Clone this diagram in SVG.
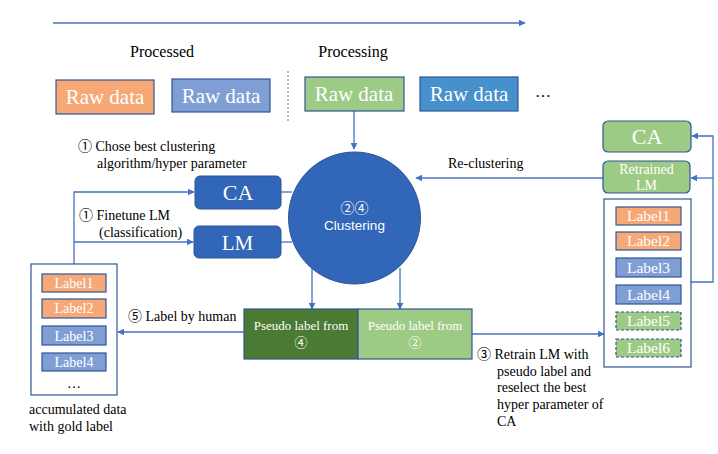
<svg xmlns="http://www.w3.org/2000/svg" width="718" height="454" viewBox="0 0 718 454" font-family="'Liberation Serif', 'Times New Roman', 'DejaVu Serif', serif">
<style>
text{font-family:'Liberation Serif','Times New Roman','DejaVu Serif',serif;}
.cj{font-family:'Liberation Serif','Noto Sans CJK JP',serif;}
.t{font-size:14px;fill:#000;}
.w{fill:#fff;text-anchor:middle;}
.raw{font-size:21px;}
.box{stroke:#2F5597;stroke-width:1.2;}
.ln{stroke:#4472C4;stroke-width:1.3;fill:none;}
.or{fill:#F7A877;}
.bl{fill:#7F9FD4;}
.gr{fill:#9DCB86;}
.lb{font-size:14px;}
.lb2{font-size:15.5px;}
.sans{font-family:'Liberation Sans','Noto Sans CJK JP',sans-serif;}
</style>
<defs>
<marker id="ah" viewBox="0 0 10 10" refX="9" refY="5" markerWidth="7" markerHeight="7" markerUnits="userSpaceOnUse" orient="auto">
<path d="M0,0 L10,5 L0,10 z" fill="#4472C4"/>
</marker>
</defs>
<rect width="718" height="454" fill="#fff"/>

<g id="connectors">
<line class="ln" x1="53" y1="23" x2="525" y2="23" marker-end="url(#ah)"/>
<line x1="288" y1="71" x2="288" y2="122" stroke="#4472C4" stroke-width="1" stroke-dasharray="2,2"/>
<line class="ln" x1="354" y1="111" x2="354" y2="149" marker-end="url(#ah)"/>
<line class="ln" x1="281" y1="192" x2="292" y2="192"/>
<line class="ln" x1="281" y1="242" x2="292" y2="242"/>
<polyline class="ln" points="74,264 74,192 194,192" marker-end="url(#ah)"/>
<line class="ln" x1="74" y1="242" x2="193" y2="242" marker-end="url(#ah)"/>
<line class="ln" x1="312" y1="268" x2="312" y2="309" marker-end="url(#ah)"/>
<line class="ln" x1="400" y1="268" x2="400" y2="309" marker-end="url(#ah)"/>
<line class="ln" x1="244" y1="332" x2="118" y2="332" marker-end="url(#ah)"/>
<line class="ln" x1="472" y1="334" x2="604" y2="334" marker-end="url(#ah)"/>
<line class="ln" x1="603" y1="178" x2="416" y2="178" marker-end="url(#ah)"/>
<polyline class="ln" points="691,282 713,282 713,136 692,136" marker-end="url(#ah)"/>
<line class="ln" x1="713" y1="178" x2="691" y2="178" marker-end="url(#ah)"/>
</g>

<text class="t" x="162" y="57" text-anchor="middle" style="font-size:16px">Processed</text>
<text class="t" x="353" y="57" text-anchor="middle" style="font-size:16px">Processing</text>

<g id="raw1"><rect class="box or" x="56" y="80" width="98" height="34"/><text class="w raw" x="105" y="104">Raw data</text></g>
<g id="raw2"><rect class="box bl" x="172" y="79" width="98" height="33"/><text class="w raw" x="221" y="103">Raw data</text></g>
<g id="raw3"><rect class="box gr" x="305" y="77" width="99" height="34"/><text class="w raw" x="354" y="101">Raw data</text></g>
<g id="raw4"><rect class="box" fill="#4690CC" x="420" y="77" width="98" height="34"/><text class="w raw" x="469" y="101">Raw data</text></g>
<text class="t" x="543" y="97" text-anchor="middle" style="font-size:16px">…</text>

<g id="clustering">
<circle cx="354.5" cy="218" r="66" fill="#3166B9" stroke="#2F5597" stroke-width="1"/>
<text class="sans" x="354.5" y="213" fill="#fff" text-anchor="middle" style="font-size:14px">②④</text>
<text class="sans" x="354.5" y="230" fill="#fff" text-anchor="middle" style="font-size:13.5px">Clustering</text>
</g>

<g id="ca"><rect x="195" y="176" width="86" height="33" rx="5" fill="#3166B9" stroke="#2F5597"/><text class="w" x="238" y="200" style="font-size:22px">CA</text></g>
<g id="lm"><rect x="194" y="226" width="87" height="32" rx="5" fill="#3166B9" stroke="#2F5597"/><text class="w" x="237.5" y="250" style="font-size:21px">LM</text></g>

<text class="t cj" x="78" y="151">① Chose best clustering</text>
<text class="t" x="97" y="168">algorithm/hyper parameter</text>
<text class="t cj" x="79" y="220">① Finetune LM</text>
<text class="t" x="99" y="237">(classification)</text>

<g id="gold">
<rect x="31" y="264" width="86" height="131" fill="#fff" stroke="#2F5597" stroke-width="1.2"/>
<rect class="box or" x="42" y="274" width="64" height="18"/><text class="w lb" x="74" y="288">Label1</text>
<rect class="box or" x="42" y="299" width="64" height="19"/><text class="w lb" x="74" y="313">Label2</text>
<rect class="box bl" x="42" y="326" width="64" height="19"/><text class="w lb" x="74" y="341">Label3</text>
<rect class="box bl" x="42" y="353" width="64" height="18"/><text class="w lb" x="74" y="367">Label4</text>
<text class="t" x="74" y="388" text-anchor="middle">…</text>
</g>
<text class="t" x="29" y="414">accumulated data</text>
<text class="t" x="29" y="431">with gold label</text>

<text class="t cj" x="128" y="321">⑤ Label by human</text>

<g id="pseudo4"><rect class="box" fill="#4A7A33" x="244" y="309" width="114" height="50"/>
<text class="w" x="301" y="330" style="font-size:13px">Pseudo label from</text><text class="w cj" x="301" y="347" style="font-size:13px">④</text></g>
<g id="pseudo2"><rect class="box gr" x="358" y="309" width="114" height="50"/>
<text class="w" x="415" y="330" style="font-size:13px">Pseudo label from</text><text class="w cj" x="415" y="347" style="font-size:13px">②</text></g>

<text class="t cj" x="477" y="359">③ Retrain LM with</text>
<text class="t" x="497" y="376">pseudo label and</text>
<text class="t" x="497" y="392">reselect the best</text>
<text class="t" x="497" y="409">hyper parameter of</text>
<text class="t" x="497" y="426">CA</text>

<text class="t" x="448" y="168">Re-clustering</text>

<g id="ca2"><rect class="box gr" x="603" y="121" width="88" height="31" rx="5"/><text class="w" x="647" y="144" style="font-size:22px">CA</text></g>
<g id="retrained"><rect class="box gr" x="603" y="161" width="87" height="32" rx="5"/>
<text class="w" x="646.5" y="174" style="font-size:14px">Retrained</text><text class="w" x="646.5" y="190" style="font-size:14px">LM</text></g>

<g id="pseudo-data">
<rect x="604" y="199" width="87" height="168" fill="#fff" stroke="#2F5597" stroke-width="1.2"/>
<rect class="box or" x="616" y="207" width="65" height="18"/><text class="w lb2" x="648.5" y="221">Label1</text>
<rect class="box or" x="616" y="232" width="65" height="18"/><text class="w lb2" x="648.5" y="246">Label2</text>
<rect class="box bl" x="616" y="258" width="65" height="19"/><text class="w lb2" x="648.5" y="273">Label3</text>
<rect class="box bl" x="616" y="285" width="65" height="19"/><text class="w lb2" x="648.5" y="300">Label4</text>
<rect class="box gr" x="616" y="312" width="65" height="18" stroke-dasharray="3,2"/><text class="w lb2" x="648.5" y="326">Label5</text>
<rect class="box gr" x="616" y="339" width="65" height="18" stroke-dasharray="3,2"/><text class="w lb2" x="648.5" y="353">Label6</text>
</g>
</svg>
